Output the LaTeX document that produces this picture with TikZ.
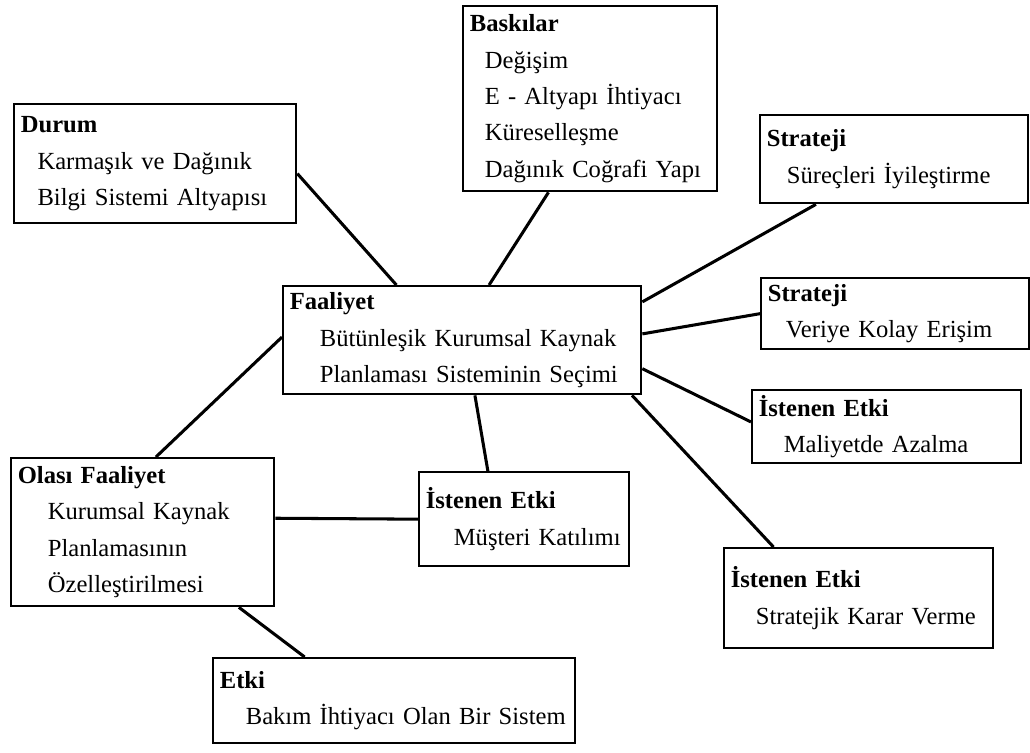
\documentclass[tikz,border=0pt]{standalone}
\usepackage{fontspec}
\setmainfont{Liberation Serif}

\begin{document}
\begin{tikzpicture}[x=0.03cm, y=-0.03cm,
    kutu/.style={draw, line width=2pt, anchor=north west, align=left,
    inner xsep=0.2cm, inner ysep=0pt, font=\fontsize{21}{31}\selectfont},
    bag/.style={line width=2.6pt}]

    \useasboundingbox (0,0) rectangle (1030,753);

    \node[kutu, text width=8.06cm, minimum height=3.57cm] (durum) at (13,103)
        {\textbf{Durum}\\\hspace*{0.5cm}Karmaşık ve Dağınık\\\hspace*{0.5cm}Bilgi Sistemi Altyapısı};
    \node[kutu, text width=7.22cm, minimum height=5.55cm] (baskilar) at (462,5)
        {\textbf{Baskılar}\\\hspace*{0.45cm}Değişim\\\hspace*{0.45cm}E - Altyapı İhtiyacı\\\hspace*{0.45cm}Küreselleşme\\\hspace*{0.45cm}Dağınık Coğrafi Yapı};
    \node[kutu, text width=7.64cm, minimum height=2.64cm] (strat1) at (759,114)
        {\textbf{Strateji}\\\hspace*{0.6cm}Süreçleri İyileştirme};
    \node[kutu, text width=7.64cm, minimum height=2.13cm] (strat2) at (760,277)
        {\textbf{Strateji}\\\hspace*{0.54cm}Veriye Kolay Erişim};
    \node[kutu, text width=10.34cm, minimum height=3.24cm] (faaliyet) at (282,285)
        {\textbf{Faaliyet}\\\hspace*{0.9cm}Bütünleşik Kurumsal Kaynak\\\hspace*{0.9cm}Planlaması Sisteminin Seçimi};
    \node[kutu, text width=7.67cm, minimum height=2.19cm] (maliyet) at (751,389)
        {\textbf{İstenen Etki}\\\hspace*{0.75cm}Maliyetde Azalma};
    \node[kutu, text width=7.49cm, minimum height=4.44cm] (olasi) at (10,457)
        {\textbf{Olası Faaliyet}\\\hspace*{0.9cm}Kurumsal Kaynak\\\hspace*{0.9cm}Planlamasının\\\hspace*{0.9cm}Özelleştirilmesi};
    \node[kutu, text width=5.9cm, minimum height=2.82cm] (musteri) at (418,471)
        {\textbf{İstenen Etki}\\\hspace*{0.84cm}Müşteri Katılımı};
    \node[kutu, text width=7.67cm, minimum height=3cm] (karar) at (723,547)
        {\textbf{İstenen Etki}\\\hspace*{0.75cm}Stratejik Karar Verme};
    \node[kutu, text width=10.46cm, minimum height=2.55cm] (etki) at (212,657)
        {\textbf{Etki}\\\hspace*{0.78cm}Bakım İhtiyacı Olan Bir Sistem};

    \draw[bag] (durum.-4) -- (faaliyet.140);
    \draw[bag] (baskilar.-114) -- (faaliyet.64);
    \draw[bag] (strat1.-150) -- (faaliyet.12);
    \draw[bag] (strat2.180) -- (faaliyet.2);
    \draw[bag] (maliyet.178) -- (faaliyet.-9);
    \draw[bag] (karar.149) -- (faaliyet.-18);
    \draw[bag] (musteri.127) -- (faaliyet.-77);
    \draw[bag] (olasi.80) -- (faaliyet.179);
    \draw[bag] (olasi.6) -- (musteri.west);
    \draw[bag] (olasi.-38) -- (etki.154);
\end{tikzpicture}
\end{document}
